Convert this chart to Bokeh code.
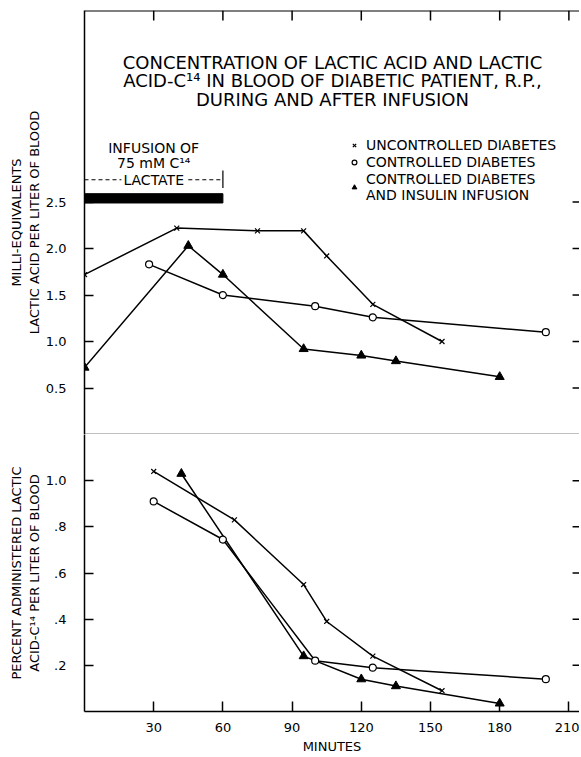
from bokeh.plotting import figure
from bokeh.layouts import column
from bokeh.models import (Range1d, LinearAxis, FixedTicker, Span, Legend, LegendItem,
                          CustomJSTickFormatter)
from bokeh.core.properties import value
from bokeh.embed import file_html
from bokeh.resources import INLINE

FONT = "DejaVu Sans"

# ---------------- data ----------------
# Upper panel: lactic acid concentration (mEq / L of blood)
conc_uncontrolled_min = [0, 40, 75, 95, 105, 125, 155]
conc_uncontrolled = [1.72, 2.22, 2.19, 2.19, 1.92, 1.40, 1.00]
conc_controlled_min = [28, 60, 100, 125, 200]
conc_controlled = [1.83, 1.50, 1.38, 1.26, 1.10]
conc_insulin_min = [0, 45, 60, 95, 120, 135, 180]
conc_insulin = [0.72, 2.03, 1.72, 0.92, 0.85, 0.79, 0.62]

# Lower panel: percent administered lactic acid-C14 per liter of blood
pct_uncontrolled_min = [30, 65, 95, 105, 125, 155]
pct_uncontrolled = [1.04, 0.83, 0.55, 0.39, 0.24, 0.09]
pct_controlled_min = [30, 60, 100, 125, 200]
pct_controlled = [0.91, 0.745, 0.22, 0.19, 0.14]
pct_insulin_min = [42, 95, 120, 135, 180]
pct_insulin = [1.03, 0.24, 0.14, 0.11, 0.035]

x_ticks = [30, 60, 90, 120, 150, 180, 210]
x_tick_labels = ["30", "60", "90", "120", "150", "180", "210"]
conc_ticks = [0.5, 1.0, 1.5, 2.0, 2.5]
conc_tick_labels = ["0.5", "1.0", "1.5", "2.0", "2.5"]
pct_ticks = [0.2, 0.4, 0.6, 0.8, 1.0]
pct_tick_labels = [".2", ".4", ".6", ".8", "1.0"]

series_names = ["UNCONTROLLED DIABETES", "CONTROLLED DIABETES",
                "CONTROLLED DIABETES\nAND INSULIN INFUSION"]

infusion_start, infusion_end = 0, 60
infusion_level = 2.54

title_lines = ["CONCENTRATION OF LACTIC ACID AND LACTIC",
               "ACID-C\u00b9\u2074 IN BLOOD OF DIABETIC PATIENT, R.P.,",
               "DURING AND AFTER INFUSION"]
infusion_lines = ["INFUSION OF", "75 mM C\u00b9\u2074"]

# ranges
x_max = 214.6
conc_max = 4.56
pct_max = 1.2

# ---------------- helpers ----------------
def label_formatter(ticks, labels):
    return CustomJSTickFormatter(args=dict(tvals=ticks, tlabels=labels), code="""
        const i = tvals.findIndex(t => Math.abs(t - tick) < 1e-9);
        return i >= 0 ? tlabels[i] : '';
    """)

def style_axis(ax, ticks, labels, tick_in=9, standoff=18):
    ax.ticker = FixedTicker(ticks=ticks)
    ax.major_tick_in = tick_in
    ax.major_tick_out = 0
    ax.minor_tick_in = 0
    ax.minor_tick_out = 0
    ax.major_tick_line_width = 1.5
    ax.major_tick_line_color = "black"
    ax.axis_line_width = 1.5
    ax.axis_line_color = "black"
    ax.major_label_text_font = FONT
    ax.major_label_text_color = "black"
    ax.axis_label_text_font = FONT
    ax.axis_label_text_font_style = "normal"
    ax.axis_label_text_color = "black"
    ax.axis_label_text_font_size = "13px"
    ax.formatter = label_formatter(ticks, labels)
    ax.major_label_text_font_size = "13px"
    ax.major_label_standoff = standoff

x_range = Range1d(0, x_max)
tick_kw = dict(line_color="black", line_width=1.5)

# ---------------- top panel ----------------
top = figure(frame_width=495, frame_height=424, x_range=x_range, y_range=Range1d(0, conc_max),
             output_backend="svg", toolbar_location=None,
             x_axis_location=None, y_axis_location=None,
             min_border_left=84, min_border_right=0, min_border_top=10, min_border_bottom=0,
             outline_line_color=None, background_fill_color="white", border_fill_color="white")
top.grid.visible = False

ax = LinearAxis()
style_axis(ax, conc_ticks, conc_tick_labels)
ax.axis_label = "MILLI-EQUIVALENTS\nLACTIC ACID PER LITER OF BLOOD"
ax.axis_label_standoff = 1
top.add_layout(ax, "left")

# top border with inward ticks, right-hand inward ticks, divider line
top.add_layout(Span(location=conc_max, dimension="width", line_color="black", line_width=2))
top.add_layout(Span(location=0, dimension="width", line_color="black", line_width=1.5))
top_tick_len = 0.107          # ~10 px
right_tick_len = 3.0          # ~7 px
top.segment(x0=x_ticks, x1=x_ticks, y0=[conc_max] * len(x_ticks),
            y1=[conc_max - top_tick_len] * len(x_ticks), **tick_kw)
top.segment(x0=[x_max] * len(conc_ticks), x1=[x_max - right_tick_len] * len(conc_ticks),
            y0=conc_ticks, y1=conc_ticks, **tick_kw)

line_kw = dict(line_color="black", line_width=1.5)
top.line(conc_uncontrolled_min, conc_uncontrolled, **line_kw)
top.line(conc_controlled_min, conc_controlled, **line_kw)
top.line(conc_insulin_min, conc_insulin, **line_kw)
r_x = top.scatter(conc_uncontrolled_min, conc_uncontrolled, marker="x", size=7,
                  line_color="black", line_width=1.2)
r_o = top.scatter(conc_controlled_min, conc_controlled, marker="circle", size=7,
                  line_color="black", fill_color="white", line_width=1.2)
r_t = top.scatter(conc_insulin_min, conc_insulin, marker="triangle", size=9,
                  line_color="black", fill_color="black")

# infusion bar and annotation
top.quad(left=[infusion_start], right=[infusion_end],
         bottom=[infusion_level - 0.05], top=[infusion_level + 0.05],
         fill_color="black", line_color="black")
mid = (infusion_start + infusion_end) / 2
dim_y = infusion_level + 0.2
top.segment(x0=[infusion_start, mid + 15], x1=[mid - 14, infusion_end],
            y0=[dim_y, dim_y], y1=[dim_y, dim_y], line_color="black", line_width=1.2,
            line_dash="4 3")
top.segment(x0=[infusion_end], x1=[infusion_end], y0=[dim_y - 0.09], y1=[dim_y + 0.1],
            line_color="black", line_width=1.2)
top.text(x=[mid, mid, mid], y=[dim_y + 0.345, dim_y + 0.18, dim_y],
         text=infusion_lines + ["LACTATE"], text_font=value(FONT), text_font_size="14px",
         text_align="center", text_baseline="middle", text_color="black")

# title
title_x = 107.5
top.text(x=[title_x] * 3, y=[4.0, 3.81, 3.6], text=title_lines,
         text_font=value(FONT), text_font_size="18px",
         text_align="center", text_baseline="middle", text_color="black")

legend = Legend(items=[LegendItem(label=series_names[0], renderers=[r_x]),
                       LegendItem(label=series_names[1], renderers=[r_o]),
                       LegendItem(label=series_names[2], renderers=[r_t])],
                location=(264, 231), border_line_color=None, background_fill_alpha=0,
                padding=0, margin=0, spacing=1, label_height=16, glyph_height=16,
                glyph_width=12, label_standoff=6, label_text_font=FONT,
                label_text_font_size="14px", label_text_color="black",
                label_text_line_height=1.15)
top.add_layout(legend)

# ---------------- bottom panel ----------------
bot = figure(frame_width=495, frame_height=277, x_range=x_range, y_range=Range1d(0, pct_max),
             output_backend="svg", toolbar_location=None,
             x_axis_location=None, y_axis_location=None,
             min_border_left=84, min_border_right=0, min_border_top=0, min_border_bottom=0,
             outline_line_color=None, background_fill_color="white", border_fill_color="white")
bot.grid.visible = False

ax = LinearAxis()
style_axis(ax, pct_ticks, pct_tick_labels)
ax.axis_label = "PERCENT ADMINISTERED LACTIC\nACID-C\u00b9\u2074 PER LITER OF BLOOD"
ax.axis_label_standoff = 1
bot.add_layout(ax, "left")

ax = LinearAxis()
style_axis(ax, x_ticks, x_tick_labels, tick_in=10, standoff=11)
ax.axis_label = "MINUTES"
ax.axis_label_standoff = 4
bot.add_layout(ax, "below")

bot.segment(x0=[x_max] * len(pct_ticks), x1=[x_max - right_tick_len] * len(pct_ticks),
            y0=pct_ticks, y1=pct_ticks, **tick_kw)

bot.line(pct_uncontrolled_min, pct_uncontrolled, **line_kw)
bot.line(pct_controlled_min, pct_controlled, **line_kw)
bot.line(pct_insulin_min, pct_insulin, **line_kw)
bot.scatter(pct_uncontrolled_min, pct_uncontrolled, marker="x", size=7,
            line_color="black", line_width=1.2)
bot.scatter(pct_controlled_min, pct_controlled, marker="circle", size=7,
            line_color="black", fill_color="white", line_width=1.2)
bot.scatter(pct_insulin_min, pct_insulin, marker="triangle", size=9,
            line_color="black", fill_color="black")

layout = column(top, bot, spacing=0)
open("out.html", "w").write(file_html(layout, INLINE))
